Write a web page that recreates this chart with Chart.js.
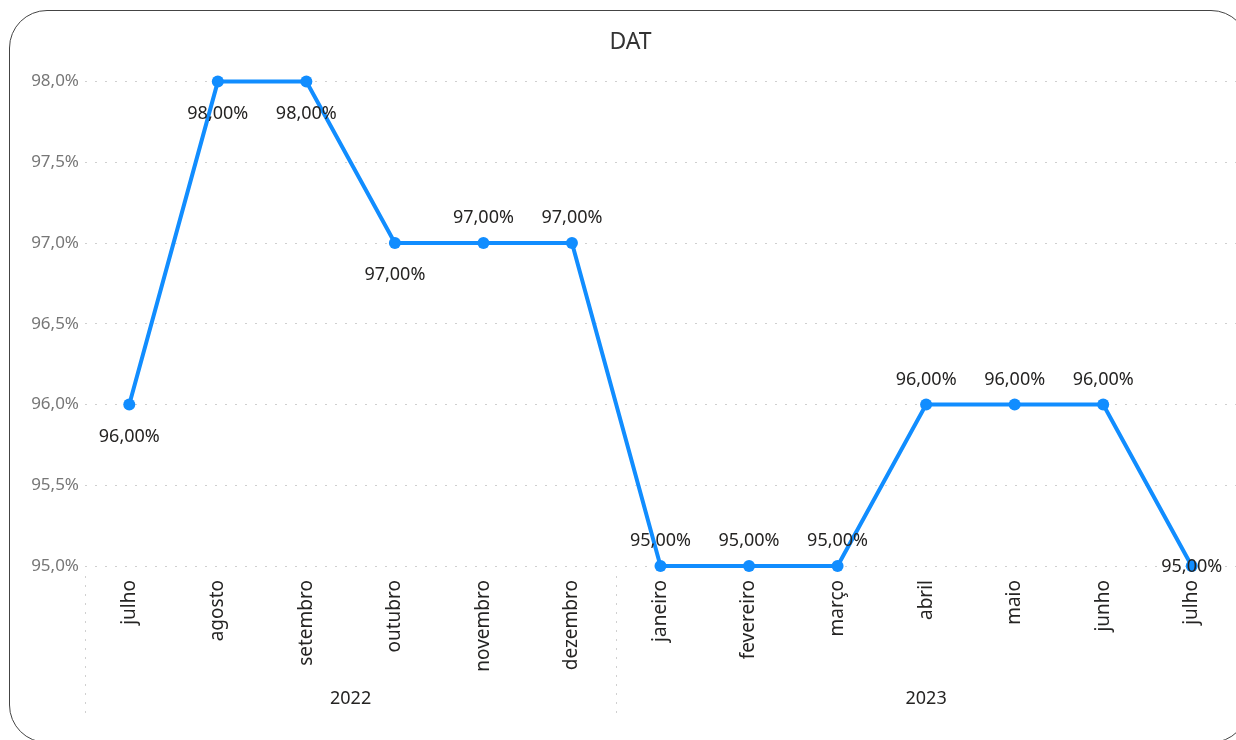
<!DOCTYPE html>
<html>
<head>
<meta charset="utf-8">
<script src="https://cdn.jsdelivr.net/npm/chart.js@4/dist/chart.umd.min.js"></script>
<style>
  body { margin: 0; background: #fff; overflow: hidden; }
  .card {
    position: absolute; left: 9px; top: 10px; width: 1240px; height: 733px;
    border: 1.5px solid #444; border-radius: 38px; box-sizing: border-box;
  }
  #myChart { position: absolute; left: 0; top: 0; }
</style>
</head>
<body>
<div class="card"></div>
<canvas id="myChart" width="1236" height="740"></canvas>
<script>
const months = ["julho", "agosto", "setembro", "outubro", "novembro", "dezembro",
  "janeiro", "fevereiro", "março", "abril", "maio", "junho", "julho"];
const years = ["2022", "2023"];
const monthsPerYear = [6, 7];
const datValues = [96, 98, 98, 97, 97, 97, 95, 95, 95, 96, 96, 96, 95];

// where each data label sits relative to its point
const labelSide = ["below", "below", "below", "below", "above", "above",
  "above", "above", "above", "above", "above", "above", "center"];

const fontFamily = "'Noto Sans', sans-serif";
const blue = "#118DFF";

const pct = (v, digits) => v.toFixed(digits).replace(".", ",") + "%";

const dataLabels = {
  id: "dataLabels",
  afterDatasetsDraw(chart) {
    const ctx = chart.ctx;
    const meta = chart.getDatasetMeta(0);
    ctx.save();
    ctx.font = "18px " + fontFamily;
    ctx.fillStyle = "#252423";
    ctx.textAlign = "center";
    ctx.textBaseline = "middle";
    meta.data.forEach((pt, i) => {
      const side = labelSide[i];
      let y = pt.y;
      if (side === "below") y += 31;
      if (side === "above") y -= 26;
      ctx.fillText(pct(datValues[i], 2), pt.x, y + 1);
    });
    ctx.restore();
  },
};

const yearRow = {
  id: "yearRow",
  afterDraw(chart) {
    const ctx = chart.ctx;
    const x = chart.scales.x;
    const half = (x.getPixelForValue(1) - x.getPixelForValue(0)) / 2;
    ctx.save();
    ctx.strokeStyle = "#d0d0d0";
    ctx.lineWidth = 1;
    ctx.setLineDash([2, 7]);
    ctx.font = "18px " + fontFamily;
    ctx.fillStyle = "#252423";
    ctx.textAlign = "center";
    ctx.textBaseline = "middle";
    let start = 0;
    years.forEach((year, i) => {
      const left = x.getPixelForValue(start) - half;
      const end = start + monthsPerYear[i] - 1;
      const right = x.getPixelForValue(end) + half;
      ctx.beginPath();
      ctx.moveTo(Math.round(left) + 0.5, chart.chartArea.bottom + 10);
      ctx.lineTo(Math.round(left) + 0.5, 716);
      ctx.stroke();
      ctx.fillText(year, (left + right) / 2, 699);
      start += monthsPerYear[i];
    });
    ctx.restore();
  },
};

new Chart(document.getElementById("myChart"), {
  type: "line",
  data: {
    labels: months,
    datasets: [
      {
        label: "DAT",
        data: datValues,
        borderColor: blue,
        backgroundColor: blue,
        borderWidth: 4,
        pointRadius: 6,
        pointBorderWidth: 0,
        pointBackgroundColor: blue,
        tension: 0,
        clip: false,
      },
    ],
  },
  options: {
    responsive: false,
    animation: false,
    layout: { autoPadding: false, padding: { left: 25, top: 10, right: 0, bottom: 0 } },
    plugins: {
      legend: { display: false },
      tooltip: { enabled: false },
      title: {
        display: true,
        text: "DAT",
        color: "#333",
        font: { family: fontFamily, size: 23, weight: "normal" },
        padding: { top: 19, bottom: 25 },
      },
    },
    scales: {
      x: {
        offset: true,
        grid: { display: false, drawTicks: false },
        border: { display: false },
        ticks: {
          color: "#252423",
          font: { family: fontFamily, size: 19 },
          minRotation: 90,
          maxRotation: 90,
          padding: 14,
          autoSkip: false,
        },
        afterFit: (s) => {
          s.height = 174;
        },
      },
      y: {
        min: 95,
        max: 98,
        grid: { color: "#cfcfcf", drawTicks: false },
        border: { display: false, dash: [2, 8] },
        ticks: {
          stepSize: 0.5,
          color: "#777",
          font: { family: fontFamily, size: 17 },
          padding: 6,
          callback: (v) => pct(v, 1),
        },
        afterFit: (s) => { s.width = 60; },
      },
    },
  },
  plugins: [dataLabels, yearRow],
});
</script>
</body>
</html>
